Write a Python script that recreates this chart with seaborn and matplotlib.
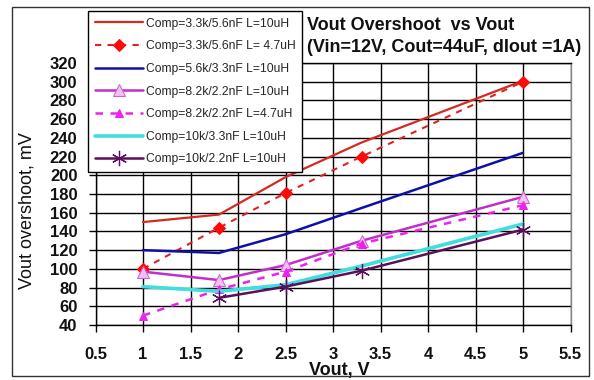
import matplotlib
matplotlib.use("Agg")
import matplotlib.pyplot as plt
import seaborn as sns
import pandas as pd
from matplotlib.patches import Rectangle

sns.set_theme(style="white")
plt.rcParams['font.family'] = ['Liberation Sans', 'DejaVu Sans']

# ---- data ----
labels = [
    "Comp=3.3k/5.6nF L=10uH",
    "Comp=3.3k/5.6nF L= 4.7uH",
    "Comp=5.6k/3.3nF L=10uH",
    "Comp=8.2k/2.2nF L=10uH",
    "Comp=8.2k/2.2nF L=4.7uH",
    "Comp=10k/3.3nF L=10uH",
    "Comp=10k/2.2nF L=10uH",
]
vout_a = [1.0, 1.8, 2.5, 3.3, 5.0]
vout_b = [1.8, 2.5, 3.3, 5.0]
s1 = [150, 158, 198, 235, 301]
s2 = [100, 144, 181, 220, 300]
s3 = [120, 117, 137, 165, 224]
s4 = [97, 88, 104, 130, 177]
s5 = [50, 78, 97, 127, 168]
s6 = [81, 76, 83, 103, 148]
s7 = [69, 81, 98, 142]

xticks = [0.5, 1, 1.5, 2, 2.5, 3, 3.5, 4, 4.5, 5, 5.5]
xticklabels = ["0.5", "1", "1.5", "2", "2.5", "3", "3.5", "4", "4.5", "5", "5.5"]
yticks = list(range(40, 321, 20))

title_lines = ["Vout Overshoot  vs Vout", "(Vin=12V, Cout=44uF, dIout =1A)"]
xlabel = "Vout, V"
ylabel = "Vout overshoot, mV"

# ---- figure ----
W, H = 594, 380
fig = plt.figure(figsize=(W / 100, H / 100), dpi=100)
fig.patch.set_facecolor("white")
ax = fig.add_axes([95.5 / W, 1 - 325 / H, 475 / W, 262 / H])
ax.set_facecolor("white")

styles = [
    (vout_a, s1, dict(color="#d42a22", lw=1.6, ls="-", marker=None)),
    (vout_a, s2, dict(color="#dd2222", lw=1.5, ls=(0, (3, 3)), marker="D", ms=6.5,
                      mfc="#ff0a0a", mec="#ff0a0a")),
    (vout_a, s3, dict(color="#1010a8", lw=1.8, ls="-", marker=None)),
    (vout_a, s4, dict(color="#c030c8", lw=1.8, ls="-", marker="^", ms=8,
                      mfc="#f0c0f0", mec="#d060d8")),
    (vout_a, s5, dict(color="#ee22ee", lw=1.8, ls=(0, (3, 3)), marker="^", ms=6,
                      mfc="#ee22ee", mec="#ee22ee")),
    (vout_a, s6, dict(color="#40dede", lw=2.6, ls="-", marker=None)),
    (vout_b, s7, dict(color="#5a105a", lw=1.8, ls="-", marker=(6, 2, 0), ms=11,
                      mfc="#5a105a", mec="#5a105a", mew=0.9)),
]

for (xs, ys, st), lab in zip(styles, labels):
    df = pd.DataFrame({"x": xs, "y": ys})
    kw = dict(color=st["color"], linewidth=st["lw"], linestyle=st["ls"])
    if st["marker"] is not None:
        kw.update(marker=st["marker"], markersize=st["ms"],
                  markerfacecolor=st["mfc"], markeredgecolor=st["mec"])
        if "mew" in st:
            kw["markeredgewidth"] = st["mew"]
    sns.lineplot(data=df, x="x", y="y", ax=ax, label=lab, sort=False, **kw)

ax.set_xlim(0.5, 5.5)
ax.set_ylim(40, 320)
ax.set_xticks(xticks)
ax.set_xticklabels(xticklabels)
ax.set_yticks(yticks)
ax.grid(True, color="black", linewidth=1.0)
ax.set_axisbelow(True)
for side in ["left", "bottom", "top"]:
    ax.spines[side].set_color("black")
    ax.spines[side].set_linewidth(1.0)
ax.spines["right"].set_color("#888888")
ax.spines["right"].set_linewidth(1.0)

ax.tick_params(axis="both", direction="out", length=5, width=1, color="black",
               labelsize=12, pad=8, bottom=True, left=True)
for t in ax.get_xticklabels() + ax.get_yticklabels():
    t.set_fontweight("bold")
    t.set_color("#111111")
ax.tick_params(axis="x", pad=11)

ax.set_xlabel(xlabel, fontsize=13, fontweight="bold", color="#111111")
ax.set_ylabel(ylabel, fontsize=13, color="#111111")
ax.xaxis.set_label_coords((339 - 95.5) / 475, -(370 - 325) / 262)
ax.yaxis.set_label_coords(-(95.5 - 27) / 475, (325 - 211) / 262)
ax.xaxis.label.set_va("center")
ax.yaxis.label.set_va("center")

# title
fig.text(307 / W, 1 - 25 / H, title_lines[0], fontsize=13, fontweight="bold",
         ha="left", va="center", color="#111111")
fig.text(307 / W, 1 - 48 / H, title_lines[1], fontsize=13, fontweight="bold",
         ha="left", va="center", color="#111111")

# legend
leg = ax.legend(loc="upper left", bbox_to_anchor=(88 / W, 1 - 11 / H),
                bbox_transform=fig.transFigure, fontsize=8.7, frameon=True,
                fancybox=False, framealpha=1, edgecolor="black",
                handlelength=4.0, handletextpad=0.25, labelspacing=0.88,
                borderpad=0.55, borderaxespad=0)
leg.get_frame().set_linewidth(1.0)
leg.set_zorder(10)

# outer frame
fig.patches.append(Rectangle((12 / W, 1 - 376 / H), 577 / W, 369 / H,
                             transform=fig.transFigure, fill=False,
                             edgecolor="#333333", linewidth=1.0))

fig.savefig("out.png", dpi=100)
